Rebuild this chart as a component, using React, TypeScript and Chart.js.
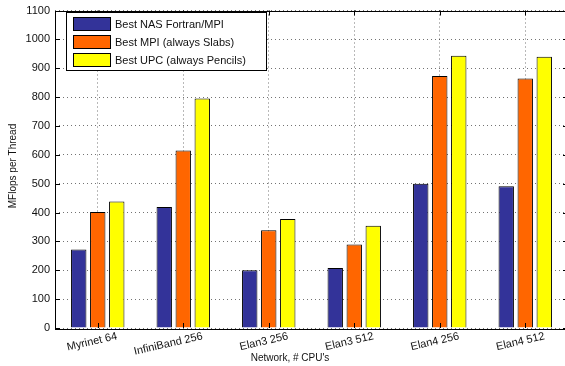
import React, { useEffect, useRef } from "react";
import { Chart, registerables } from "chart.js";

Chart.register(...registerables);

// Networks and CPU counts
const categories = ["Myrinet 64", "InfiniBand 256", "Elan3 256", "Elan3 512", "Elan4 256", "Elan4 512"];

// MFlops per thread for each implementation
const nasFortranMpi = [272, 419, 200, 208, 500, 491];
const mpiSlabs = [402, 615, 339, 289, 873, 864];
const upcPencils = [438, 795, 378, 354, 943, 940];

const seriesLabels = ["Best NAS Fortran/MPI", "Best MPI (always Slabs)", "Best UPC (always Pencils)"];
const seriesColors = ["#333399", "#FF6600", "#FFFF00"];

const yTicksMax = 1100;
const yStep = 100;

const FONT = "'Liberation Sans', Arial, Helvetica, sans-serif";

const framePlugin = {
  id: "frameAndLabels",
  afterDraw(chart: any) {
    const { ctx, chartArea } = chart;
    const xs = chart.scales.x;
    const ys = chart.scales.y;
    const { left, right, top, bottom } = chartArea;
    ctx.save();

    // axes box
    ctx.strokeStyle = "#000";
    ctx.lineWidth = 1;
    ctx.strokeRect(Math.round(left) + 0.5, Math.round(top) + 0.5, Math.round(right - left), Math.round(bottom - top));

    // inward tick marks
    const tl = 5;
    ctx.beginPath();
    for (let v = 0; v <= yTicksMax; v += yStep) {
      const y = Math.round(ys.getPixelForValue(v)) + 0.5;
      ctx.moveTo(left, y);
      ctx.lineTo(left + tl, y);
      ctx.moveTo(right, y);
      ctx.lineTo(right - tl, y);
    }
    categories.forEach((_, i) => {
      const x = Math.round(xs.getPixelForValue(i)) + 0.5;
      ctx.moveTo(x, bottom);
      ctx.lineTo(x, bottom - tl);
      ctx.moveTo(x, top);
      ctx.lineTo(x, top + tl);
    });
    ctx.stroke();

    // slanted category labels
    ctx.fillStyle = "#111";
    ctx.font = `11px ${FONT}`;
    ctx.textAlign = "right";
    ctx.textBaseline = "alphabetic";
    categories.forEach((c, i) => {
      const x = xs.getPixelForValue(i);
      ctx.save();
      ctx.translate(x + 20, bottom + 11);
      ctx.rotate((-13 * Math.PI) / 180);
      ctx.fillText(c, 0, 0);
      ctx.restore();
    });

    // axis titles
    ctx.font = `10px ${FONT}`;
    ctx.textAlign = "center";
    ctx.textBaseline = "middle";
    ctx.fillText("Network, # CPU's", 290, 358);
    ctx.save();
    ctx.translate(13.5, 166);
    ctx.rotate(-Math.PI / 2);
    ctx.fillText("MFlops per Thread", 0, 0);
    ctx.restore();

    // legend
    const lx = 66.5, ly = 12.5, lw = 200, lh = 58;
    ctx.fillStyle = "#fff";
    ctx.fillRect(lx, ly, lw, lh);
    ctx.strokeStyle = "#000";
    ctx.lineWidth = 1;
    ctx.strokeRect(lx, ly, lw, lh);
    ctx.font = `11px ${FONT}`;
    ctx.textAlign = "left";
    ctx.textBaseline = "middle";
    seriesLabels.forEach((lab, i) => {
      const sy = 17.5 + i * 18;
      ctx.fillStyle = seriesColors[i];
      ctx.fillRect(73.5, sy, 37, 13);
      ctx.strokeStyle = "#000";
      ctx.strokeRect(73.5, sy, 37, 13);
      ctx.fillStyle = "#111";
      ctx.fillText(lab, 115, sy + 7);
    });

    ctx.restore();
  },
};

export default function App() {
  const canvasRef = useRef<HTMLCanvasElement | null>(null);

  useEffect(() => {
    document.body.style.margin = "0";
    const canvas = canvasRef.current;
    if (!canvas) return;
    const series = [nasFortranMpi, mpiSlabs, upcPencils];
    const chart = new Chart(canvas, {
      type: "bar",
      data: {
        labels: categories,
        datasets: series.map((d, i) => ({
          label: seriesLabels[i],
          data: d,
          backgroundColor: seriesColors[i],
          borderColor: "#000",
          borderWidth: 1,
          categoryPercentage: 0.667,
          barPercentage: 0.81,
        })),
      },
      options: {
        responsive: false,
        animation: false,
        devicePixelRatio: 1,
        layout: { padding: { top: 6, right: 4, left: 0, bottom: 0 } },
        plugins: {
          legend: { display: false },
          tooltip: { enabled: false },
        },
        scales: {
          x: {
            grid: {
              display: true,
              offset: false,
              drawTicks: false,
              color: "rgba(0,0,0,0.55)",
              lineWidth: 1,
            },
            border: { display: false, dash: [1, 3] },
            ticks: { display: false },
            afterFit(scale: any) {
              scale.height = 38;
            },
          },
          y: {
            min: 0,
            max: yTicksMax,
            grid: {
              drawTicks: false,
              color: "rgba(0,0,0,0.55)",
              lineWidth: 1,
            },
            border: { display: false, dash: [1, 3] },
            ticks: {
              stepSize: yStep,
              padding: 5,
              color: "#111",
              font: { family: FONT, size: 11, lineHeight: 1 },
              callback: (v: any) => String(v),
            },
            afterFit(scale: any) {
              scale.width = 55;
            },
          },
        },
      },
      plugins: [framePlugin],
    });
    return () => chart.destroy();
  }, []);

  return (
    <div style={{ width: 565, height: 366, overflow: "hidden", background: "#fff" }}>
      <canvas ref={canvasRef} width={572} height={366} style={{ display: "block" }} />
    </div>
  );
}
